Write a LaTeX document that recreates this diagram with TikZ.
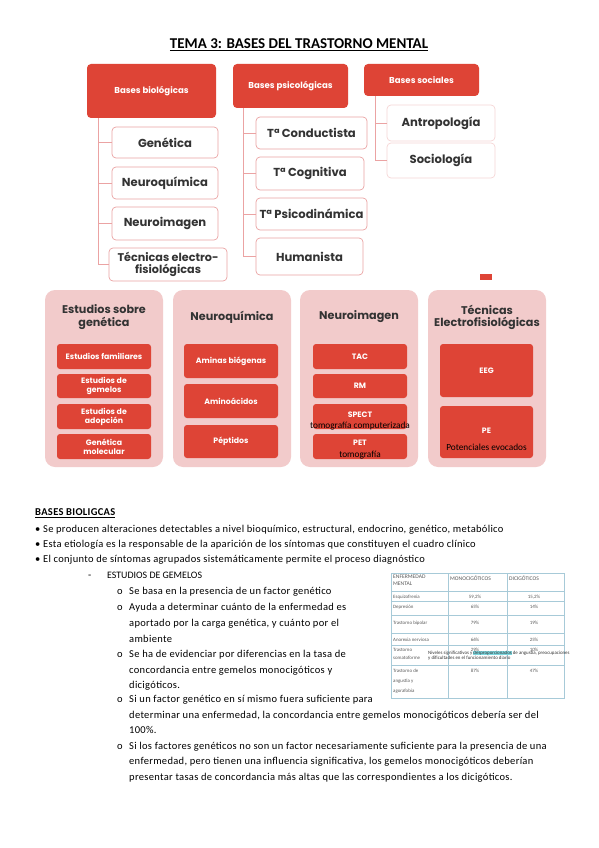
\documentclass[tikz,border=0pt]{standalone}
\usepackage{fontspec}
\setmainfont{Carlito}
\newfontfamily\bodyfont[LetterSpace=3]{Carlito}
\newfontfamily\gothic{Poppins}
\usetikzlibrary{positioning}
\definecolor{brick}{HTML}{DE4436}
\definecolor{blush}{HTML}{F2CBCB}
\definecolor{rosy}{HTML}{EBA3A3}
\definecolor{inkgray}{HTML}{333333}
\definecolor{gridblue}{HTML}{A7CAD8}
\definecolor{hilite}{HTML}{7FD8E0}

\tikzset{
  headbox/.style={rectangle,rounded corners=4pt,fill=brick,text=white,font=\gothic\bfseries\fontsize{8.6}{10}\selectfont,align=center,inner sep=2pt},
  leafbox/.style={rectangle,rounded corners=4pt,draw=rosy,line width=0.7pt,fill=white,text=inkgray,font=\gothic\bfseries\fontsize{11.6}{12}\selectfont,align=center,inner sep=2pt},
  treeline/.style={rosy,line width=0.8pt},
  panel/.style={rectangle,rounded corners=10pt,fill=blush,minimum width=118pt,minimum height=177pt},
  paneltitle/.style={font=\gothic\bfseries\fontsize{11.2}{12.5}\selectfont,text=inkgray,align=center,inner sep=0pt},
  subbox/.style={rectangle,rounded corners=3pt,fill=brick,text=white,font=\gothic\bfseries\fontsize{7.8}{9}\selectfont,align=center,inner sep=1pt,minimum width=94pt},
  overnote/.style={font=\fontsize{9.3}{10}\selectfont,text=black,inner sep=0pt},
  bodyline/.style={anchor=base west,inner sep=0pt,font=\bodyfont\fontsize{10.5}{12}\selectfont},
  cell/.style={anchor=base west,inner sep=0pt,font=\fontsize{4.9}{5.5}\selectfont,text=black!65},
  gridline/.style={gridblue,line width=0.6pt}
}

\begin{document}
\begin{tikzpicture}[x=1pt,y=-1pt]
\fill[white] (0,0) rectangle (599,848);
\useasboundingbox (0,0) rectangle (599,848);

% title
\node[font=\bfseries\fontsize{15}{17}\selectfont,inner sep=0pt] (title) at (299,45) {\underline{TEMA 3: BASES DEL TRASTORNO MENTAL}};

% bases
\node[headbox,minimum width=129pt,minimum height=54pt] (bbio) at (151.5,91) {Bases biológicas};
\node[headbox,minimum width=115pt,minimum height=44pt] (bpsi) at (290.5,86) {Bases psicológicas};
\node[headbox,minimum width=115pt,minimum height=32pt] (bsoc) at (421.5,80) {Bases sociales};

\node[leafbox,minimum width=106pt,minimum height=31pt] (gen) at (165,142.5) {Genética};
\node[leafbox,minimum width=106pt,minimum height=32pt] (nq) at (165,183) {Neuroquímica};
\node[leafbox,minimum width=106pt,minimum height=33pt] (ni) at (165,223.5) {Neuroimagen};
\node[leafbox,minimum width=118pt,minimum height=33pt,font=\gothic\bfseries\fontsize{11.2}{12}\selectfont] (tef) at (168,264.5) {Técnicas electro-\\fisiológicas};

\node[leafbox,minimum width=111pt,minimum height=32pt] (tcond) at (311.5,133) {Tª Conductista};
\node[leafbox,minimum width=108pt,minimum height=33pt] (tcog) at (310,173.5) {Tª Cognitiva};
\node[leafbox,minimum width=111pt,minimum height=32pt] (tpsi) at (311.5,214) {Tª Psicodinámica};
\node[leafbox,minimum width=107pt,minimum height=37pt] (hum) at (309.5,256.5) {Humanista};

\node[leafbox,draw=rosy!45,minimum width=108pt,minimum height=36pt] (antro) at (441,123) {Antropología};
\node[leafbox,draw=rosy!45,minimum width=108pt,minimum height=35pt] (socio) at (441,160.5) {Sociología};

% trunks
\coordinate (biotrunk) at ([xshift=12pt]bbio.south west);
\coordinate (psitrunk) at ([xshift=11pt]bpsi.south west);
\coordinate (soctrunk) at ([xshift=12pt]bsoc.south west);
\draw[treeline] (biotrunk) |- (tef.west);
\draw[treeline] (biotrunk |- gen.west) -- (gen.west);
\draw[treeline] (biotrunk |- nq.west) -- (nq.west);
\draw[treeline] (biotrunk |- ni.west) -- (ni.west);
\draw[treeline] (psitrunk) |- (hum.west);
\draw[treeline] (psitrunk |- tcond.west) -- (tcond.west);
\draw[treeline] (psitrunk |- tcog.west) -- (tcog.west);
\draw[treeline] (psitrunk |- tpsi.west) -- (tpsi.west);
\draw[treeline] (soctrunk) |- (socio.west);
\draw[treeline] (soctrunk |- antro.west) -- (antro.west);

\node[rectangle,fill=brick,minimum width=12pt,minimum height=6pt,inner sep=0pt] (redtab) at (486,277) {};

% panels
\node[panel] (pgen) at (104,378.5) {};
\node[panel] (pnq) at (232,378.5) {};
\node[panel] (pni) at (359,378.5) {};
\node[panel] (ptec) at (487,378.5) {};

\node[paneltitle] (tgen) at (104,317) {Estudios sobre\\genética};
\node[paneltitle] (tnq) at (232,317) {Neuroquímica};
\node[paneltitle] (tni) at (359,317) {Neuroimagen};
\node[paneltitle] (ttec) at (487,317.5) {Técnicas\\Electrofisiológicas};

\node[subbox,minimum height=25pt] (efam) at (104,356.5) {Estudios familiares};
\node[subbox,minimum height=24pt] (egem) at (104,386) {Estudios de\\gemelos};
\node[subbox,minimum height=25pt] (eado) at (104,416.5) {Estudios de\\adopción};
\node[subbox,minimum height=25pt] (gmol) at (104,446.5) {Genética\\molecular};

\node[subbox,minimum height=34pt] (amin) at (231,361) {Aminas biógenas};
\node[subbox,minimum height=34pt] (acid) at (231,401) {Aminoácidos};
\node[subbox,minimum height=33pt] (pept) at (231,441.5) {Péptidos};

\node[subbox,minimum height=25pt] (tac) at (360,356.5) {TAC};
\node[subbox,minimum height=24pt] (rm) at (360,386) {RM};
\node[subbox,minimum height=25pt] (spect) at (360,416.5) {};
\node[subbox,minimum height=25pt] (pet) at (360,446.5) {};
\node[subbox,fill=none] (spectlbl) at (360,415) {SPECT};
\node[overnote] (spectnote) at (360,426) {tomografía computerizada};
\node[subbox,fill=none] (petlbl) at (360,442.5) {PET};
\node[overnote] (petnote) at (360,455) {tomografía};

\node[subbox,minimum width=93pt,minimum height=53pt] (eeg) at (486.5,370.5) {EEG};
\node[subbox,minimum width=93pt,minimum height=52pt] (pe) at (486.5,432) {};
\node[subbox,fill=none] (pelbl) at (486.5,431) {PE};
\node[overnote] (penote) at (486.5,447) {Potenciales evocados};

% texto
\node[bodyline,font=\bodyfont\bfseries\fontsize{10.5}{12}\selectfont] (sec) at (35,515.5) {\underline{BASES BIOLIGCAS}};
\node[bodyline] (b1) at (35,532.5) {• Se producen alteraciones detectables a nivel bioquímico, estructural, endocrino, genético, metabólico};
\node[bodyline] (b2) at (35,547) {• Esta etiología es la responsable de la aparición de los síntomas que constituyen el cuadro clínico};
\node[bodyline] (b3) at (35,562) {• El conjunto de síntomas agrupados sistemáticamente permite el proceso diagnóstico};
\node[bodyline] (dash) at (88,578) {-};
\node[bodyline,font=\fontsize{9.9}{11}\selectfont] (gem) at (107,578) {ESTUDIOS DE GEMELOS};

\node[bodyline] (o1) at (117,594.5) {o};
\node[bodyline] (l1) at (129,594.5) {Se basa en la presencia de un factor genético};
\node[bodyline] (o2) at (117,610.5) {o};
\node[bodyline] (l2) at (129,610.5) {Ayuda a determinar cuánto de la enfermedad es};
\node[bodyline] (l3) at (129,626.5) {aportado por la carga genética, y cuánto por el};
\node[bodyline] (l4) at (129,642.5) {ambiente};
\node[bodyline] (o3) at (117,657.5) {o};
\node[bodyline] (l5) at (129,657.5) {Se ha de evidenciar por diferencias en la tasa de};
\node[bodyline] (l6) at (129,673.5) {concordancia entre gemelos monocigóticos y};
\node[bodyline] (l7) at (129,688.5) {dicigóticos.};
\node[bodyline] (o4) at (117,702.5) {o};
\node[bodyline] (l8) at (129,702.5) {Si un factor genético en sí mismo fuera suficiente para};
\node[bodyline] (l9) at (129,718.5) {determinar una enfermedad, la concordancia entre gemelos monocigóticos debería ser del};
\node[bodyline] (l10) at (129,733.5) {100\%.};
\node[bodyline] (o5) at (117,749.5) {o};
\node[bodyline] (l11) at (129,749.5) {Si los factores genéticos no son un factor necesariamente suficiente para la presencia de una};
\node[bodyline] (l12) at (129,764.5) {enfermedad, pero tienen una influencia significativa, los gemelos monocigóticos deberían};
\node[bodyline] (l13) at (129,780.5) {presentar tasas de concordancia más altas que las correspondientes a los dicigóticos.};

% tabla
\draw[gridline] (391,591) -- (564,591);
\draw[gridline] (391,601) -- (564,601);
\draw[gridline] (391,615) -- (564,615);
\draw[gridline] (391,633) -- (564,633);
\draw[gridline] (391,645) -- (564,645);
\draw[gridline] (391,665) -- (564,665);
\draw[gridline] (448,573) -- (448,698);
\draw[gridline] (507,573) -- (507,698);
\draw[gridline,line width=1pt] (391,573) rectangle (564,698);

\node[cell,align=left,anchor=north west,font=\fontsize{5.6}{7}\selectfont] (hdis) at (393,575) {ENFERMEDAD\\MENTAL};
\node[cell,font=\fontsize{5.6}{7}\selectfont] (hmono) at (450,580) {MONOCIGÓTICOS};
\node[cell,font=\fontsize{5.6}{7}\selectfont] (hdici) at (509,580) {DICIGÓTICOS};
\node[cell] (resq) at (393,598.5) {Esquizofrenia};
\node[cell] (rdep) at (393,608) {Depresión};
\node[cell] (rbip) at (393,624) {Trastorno bipolar};
\node[cell] (rano) at (393,641) {Anorexia nerviosa};
\node[cell] (rsom) at (393,651) {Trastorno};
\node[cell] (rsom2) at (393,659.5) {somatoforme};
\node[cell] (rang) at (393,672) {Trastorno de};
\node[cell] (rang2) at (393,682) {angustia y};
\node[cell] (rang3) at (393,692) {agorafobia};
\node[cell,anchor=base] (m1) at (475,598.5) {59,2\%};
\node[cell,anchor=base] (d1) at (534,598.5) {15,2\%};
\node[cell,anchor=base] (m2) at (475,608) {65\%};
\node[cell,anchor=base] (d2) at (534,608) {14\%};
\node[cell,anchor=base] (m3) at (475,624) {79\%};
\node[cell,anchor=base] (d3) at (534,624) {19\%};
\node[cell,anchor=base] (m4) at (475,641) {66\%};
\node[cell,anchor=base] (d4) at (534,641) {25\%};
\node[cell,anchor=base] (m5) at (475,651) {29\%};
\node[cell,anchor=base] (d5) at (534,651) {10\%};
\node[cell,anchor=base] (m6) at (475,672) {87\%};
\node[cell,anchor=base] (d6) at (534,672) {47\%};
\node[cell,anchor=north west,align=left,font=\fontsize{4.9}{5}\selectfont,text=black!80] (somnote) at (428,651) {Niveles significativos y {\setlength\fboxsep{0pt}\colorbox{hilite}{desproporcionados}} de angustia, preocupaciones\\y dificultades en el funcionamiento diario};
\end{tikzpicture}
\end{document}
